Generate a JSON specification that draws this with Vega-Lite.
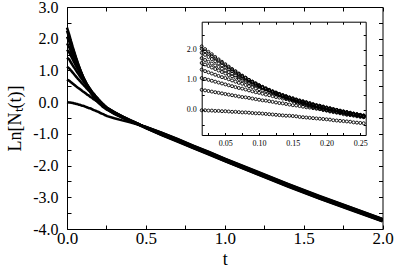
{
"$schema": "https://vega.github.io/schema/vega-lite/v6.json",
"width": 315.5, "height": 222, "autosize": "none",
"padding": {"left": 67, "top": 7, "right": 11.5, "bottom": 44},
"config": {"view": {"stroke": null}, "font": "Liberation Serif", "axis": {"grid": false, "domainColor": "#000", "tickColor": "#000", "labelColor": "#000", "titleColor": "#000", "labelFont": "Liberation Serif", "titleFont": "Liberation Serif", "titleFontWeight": "normal", "labelFontWeight": "normal", "domainWidth": 1, "tickWidth": 1, "labelFlush": false, "labelOverlap": false, "labelBound": false}},
"data": {"values": [
{"s":0,"t":0,"v":0},{"s":0,"t":0.015,"v":-0.01},{"s":0,"t":0.02,"v":-0.01},{"s":0,"t":0.025,"v":-0.02},{"s":0,"t":0.03,"v":-0.02},{"s":0,"t":0.035,"v":-0.03},{"s":0,"t":0.04,"v":-0.03},{"s":0,"t":0.045,"v":-0.04},{"s":0,"t":0.05,"v":-0.04},{"s":0,"t":0.055,"v":-0.05},{"s":0,"t":0.06,"v":-0.06},{"s":0,"t":0.065,"v":-0.06},{"s":0,"t":0.07,"v":-0.07},{"s":0,"t":0.075,"v":-0.08},{"s":0,"t":0.08,"v":-0.08},{"s":0,"t":0.085,"v":-0.09},{"s":0,"t":0.09,"v":-0.10},{"s":0,"t":0.095,"v":-0.11},{"s":0,"t":0.1,"v":-0.11},{"s":0,"t":0.105,"v":-0.12},{"s":0,"t":0.11,"v":-0.13},{"s":0,"t":0.115,"v":-0.14},{"s":0,"t":0.12,"v":-0.15},{"s":0,"t":0.125,"v":-0.16},{"s":0,"t":0.13,"v":-0.17},{"s":0,"t":0.135,"v":-0.18},{"s":0,"t":0.14,"v":-0.19},{"s":0,"t":0.145,"v":-0.19},{"s":0,"t":0.15,"v":-0.20},{"s":0,"t":0.155,"v":-0.21},{"s":0,"t":0.16,"v":-0.23},{"s":0,"t":0.165,"v":-0.24},{"s":0,"t":0.17,"v":-0.25},{"s":0,"t":0.175,"v":-0.26},{"s":0,"t":0.18,"v":-0.27},{"s":0,"t":0.185,"v":-0.28},{"s":0,"t":0.19,"v":-0.29},{"s":0,"t":0.195,"v":-0.30},{"s":0,"t":0.2,"v":-0.31},{"s":0,"t":0.205,"v":-0.32},{"s":0,"t":0.21,"v":-0.34},{"s":0,"t":0.215,"v":-0.35},{"s":0,"t":0.22,"v":-0.36},{"s":0,"t":0.225,"v":-0.37},{"s":0,"t":0.23,"v":-0.38},{"s":0,"t":0.235,"v":-0.39},{"s":0,"t":0.24,"v":-0.41},{"s":0,"t":0.245,"v":-0.42},{"s":0,"t":0.25,"v":-0.43},{"s":0,"t":0.255,"v":-0.44},
{"s":0,"t":0.3,"v":-0.51},{"s":0,"t":0.35,"v":-0.575},{"s":0,"t":0.4,"v":-0.635},{"s":0,"t":0.45,"v":-0.71},{"s":0,"t":0.5,"v":-0.82},{"s":0,"t":0.6,"v":-1.04},{"s":0,"t":0.7,"v":-1.24},{"s":0,"t":0.8,"v":-1.45},{"s":0,"t":0.9,"v":-1.65},{"s":0,"t":1,"v":-1.86},{"s":0,"t":1.2,"v":-2.26},{"s":0,"t":1.4,"v":-2.66},{"s":0,"t":1.6,"v":-3.04},{"s":0,"t":1.8,"v":-3.40},{"s":0,"t":2,"v":-3.76},
{"s":1,"t":0,"v":0.71},{"s":1,"t":0.015,"v":0.67},{"s":1,"t":0.02,"v":0.65},{"s":1,"t":0.025,"v":0.63},{"s":1,"t":0.03,"v":0.61},{"s":1,"t":0.035,"v":0.59},{"s":1,"t":0.04,"v":0.57},{"s":1,"t":0.045,"v":0.55},{"s":1,"t":0.05,"v":0.53},{"s":1,"t":0.055,"v":0.51},{"s":1,"t":0.06,"v":0.49},{"s":1,"t":0.065,"v":0.47},{"s":1,"t":0.07,"v":0.45},{"s":1,"t":0.075,"v":0.43},{"s":1,"t":0.08,"v":0.42},{"s":1,"t":0.085,"v":0.40},{"s":1,"t":0.09,"v":0.38},{"s":1,"t":0.095,"v":0.36},{"s":1,"t":0.1,"v":0.34},{"s":1,"t":0.105,"v":0.32},{"s":1,"t":0.11,"v":0.31},{"s":1,"t":0.115,"v":0.29},{"s":1,"t":0.12,"v":0.27},{"s":1,"t":0.125,"v":0.25},{"s":1,"t":0.13,"v":0.23},{"s":1,"t":0.135,"v":0.22},{"s":1,"t":0.14,"v":0.20},{"s":1,"t":0.145,"v":0.18},{"s":1,"t":0.15,"v":0.16},{"s":1,"t":0.155,"v":0.15},{"s":1,"t":0.16,"v":0.13},{"s":1,"t":0.165,"v":0.11},{"s":1,"t":0.17,"v":0.09},{"s":1,"t":0.175,"v":0.08},{"s":1,"t":0.18,"v":0.06},{"s":1,"t":0.185,"v":0.04},{"s":1,"t":0.19,"v":0.03},{"s":1,"t":0.195,"v":0.01},{"s":1,"t":0.2,"v":-0.01},{"s":1,"t":0.205,"v":-0.03},{"s":1,"t":0.21,"v":-0.04},{"s":1,"t":0.215,"v":-0.06},{"s":1,"t":0.22,"v":-0.08},{"s":1,"t":0.225,"v":-0.09},{"s":1,"t":0.23,"v":-0.11},{"s":1,"t":0.235,"v":-0.12},{"s":1,"t":0.24,"v":-0.14},{"s":1,"t":0.245,"v":-0.16},{"s":1,"t":0.25,"v":-0.17},{"s":1,"t":0.255,"v":-0.19},
{"s":1,"t":0.3,"v":-0.32},{"s":1,"t":0.35,"v":-0.45},{"s":1,"t":0.4,"v":-0.57},{"s":1,"t":0.45,"v":-0.68},{"s":1,"t":0.5,"v":-0.815},{"s":1,"t":0.6,"v":-1.03},{"s":1,"t":0.7,"v":-1.23},{"s":1,"t":0.8,"v":-1.44},{"s":1,"t":0.9,"v":-1.64},{"s":1,"t":1,"v":-1.85},{"s":1,"t":1.2,"v":-2.25},{"s":1,"t":1.4,"v":-2.65},{"s":1,"t":1.6,"v":-3.03},{"s":1,"t":1.8,"v":-3.39},{"s":1,"t":2,"v":-3.75},
{"s":2,"t":0,"v":1.12},{"s":2,"t":0.015,"v":1.06},{"s":2,"t":0.02,"v":1.03},{"s":2,"t":0.025,"v":1.00},{"s":2,"t":0.03,"v":0.97},{"s":2,"t":0.035,"v":0.94},{"s":2,"t":0.04,"v":0.91},{"s":2,"t":0.045,"v":0.88},{"s":2,"t":0.05,"v":0.85},{"s":2,"t":0.055,"v":0.82},{"s":2,"t":0.06,"v":0.79},{"s":2,"t":0.065,"v":0.76},{"s":2,"t":0.07,"v":0.73},{"s":2,"t":0.075,"v":0.71},{"s":2,"t":0.08,"v":0.68},{"s":2,"t":0.085,"v":0.65},{"s":2,"t":0.09,"v":0.62},{"s":2,"t":0.095,"v":0.59},{"s":2,"t":0.1,"v":0.57},{"s":2,"t":0.105,"v":0.54},{"s":2,"t":0.11,"v":0.51},{"s":2,"t":0.115,"v":0.49},{"s":2,"t":0.12,"v":0.46},{"s":2,"t":0.125,"v":0.43},{"s":2,"t":0.13,"v":0.41},{"s":2,"t":0.135,"v":0.38},{"s":2,"t":0.14,"v":0.36},{"s":2,"t":0.145,"v":0.33},{"s":2,"t":0.15,"v":0.31},{"s":2,"t":0.155,"v":0.28},{"s":2,"t":0.16,"v":0.26},{"s":2,"t":0.165,"v":0.23},{"s":2,"t":0.17,"v":0.21},{"s":2,"t":0.175,"v":0.18},{"s":2,"t":0.18,"v":0.16},{"s":2,"t":0.185,"v":0.13},{"s":2,"t":0.19,"v":0.11},{"s":2,"t":0.195,"v":0.09},{"s":2,"t":0.2,"v":0.06},{"s":2,"t":0.205,"v":0.04},{"s":2,"t":0.21,"v":0.02},{"s":2,"t":0.215,"v":0.00},{"s":2,"t":0.22,"v":-0.03},{"s":2,"t":0.225,"v":-0.05},{"s":2,"t":0.23,"v":-0.07},{"s":2,"t":0.235,"v":-0.09},{"s":2,"t":0.24,"v":-0.12},{"s":2,"t":0.245,"v":-0.14},{"s":2,"t":0.25,"v":-0.16},{"s":2,"t":0.255,"v":-0.18},
{"s":2,"t":0.3,"v":-0.31},{"s":2,"t":0.35,"v":-0.45},{"s":2,"t":0.4,"v":-0.57},{"s":2,"t":0.45,"v":-0.68},{"s":2,"t":0.5,"v":-0.81},{"s":2,"t":0.6,"v":-1.02},{"s":2,"t":0.7,"v":-1.22},{"s":2,"t":0.8,"v":-1.43},{"s":2,"t":0.9,"v":-1.63},{"s":2,"t":1,"v":-1.84},{"s":2,"t":1.2,"v":-2.24},{"s":2,"t":1.4,"v":-2.64},{"s":2,"t":1.6,"v":-3.02},{"s":2,"t":1.8,"v":-3.38},{"s":2,"t":2,"v":-3.74},
{"s":3,"t":0,"v":1.40},{"s":3,"t":0.015,"v":1.34},{"s":3,"t":0.02,"v":1.29},{"s":3,"t":0.025,"v":1.25},{"s":3,"t":0.03,"v":1.21},{"s":3,"t":0.035,"v":1.17},{"s":3,"t":0.04,"v":1.13},{"s":3,"t":0.045,"v":1.09},{"s":3,"t":0.05,"v":1.06},{"s":3,"t":0.055,"v":1.02},{"s":3,"t":0.06,"v":0.98},{"s":3,"t":0.065,"v":0.94},{"s":3,"t":0.07,"v":0.90},{"s":3,"t":0.075,"v":0.87},{"s":3,"t":0.08,"v":0.83},{"s":3,"t":0.085,"v":0.79},{"s":3,"t":0.09,"v":0.76},{"s":3,"t":0.095,"v":0.72},{"s":3,"t":0.1,"v":0.69},{"s":3,"t":0.105,"v":0.65},{"s":3,"t":0.11,"v":0.62},{"s":3,"t":0.115,"v":0.59},{"s":3,"t":0.12,"v":0.55},{"s":3,"t":0.125,"v":0.52},{"s":3,"t":0.13,"v":0.49},{"s":3,"t":0.135,"v":0.46},{"s":3,"t":0.14,"v":0.43},{"s":3,"t":0.145,"v":0.40},{"s":3,"t":0.15,"v":0.36},{"s":3,"t":0.155,"v":0.33},{"s":3,"t":0.16,"v":0.30},{"s":3,"t":0.165,"v":0.28},{"s":3,"t":0.17,"v":0.25},{"s":3,"t":0.175,"v":0.22},{"s":3,"t":0.18,"v":0.19},{"s":3,"t":0.185,"v":0.16},{"s":3,"t":0.19,"v":0.14},{"s":3,"t":0.195,"v":0.11},{"s":3,"t":0.2,"v":0.08},{"s":3,"t":0.205,"v":0.06},{"s":3,"t":0.21,"v":0.03},{"s":3,"t":0.215,"v":0.00},{"s":3,"t":0.22,"v":-0.02},{"s":3,"t":0.225,"v":-0.05},{"s":3,"t":0.23,"v":-0.07},{"s":3,"t":0.235,"v":-0.10},{"s":3,"t":0.24,"v":-0.12},{"s":3,"t":0.245,"v":-0.14},{"s":3,"t":0.25,"v":-0.17},{"s":3,"t":0.255,"v":-0.19},
{"s":3,"t":0.3,"v":-0.32},{"s":3,"t":0.35,"v":-0.46},{"s":3,"t":0.4,"v":-0.58},{"s":3,"t":0.45,"v":-0.69},{"s":3,"t":0.5,"v":-0.805},{"s":3,"t":0.6,"v":-1.01},{"s":3,"t":0.7,"v":-1.21},{"s":3,"t":0.8,"v":-1.42},{"s":3,"t":0.9,"v":-1.62},{"s":3,"t":1,"v":-1.83},{"s":3,"t":1.2,"v":-2.23},{"s":3,"t":1.4,"v":-2.63},{"s":3,"t":1.6,"v":-3.01},{"s":3,"t":1.8,"v":-3.37},{"s":3,"t":2,"v":-3.73},
{"s":4,"t":0,"v":1.65},{"s":4,"t":0.015,"v":1.56},{"s":4,"t":0.02,"v":1.51},{"s":4,"t":0.025,"v":1.46},{"s":4,"t":0.03,"v":1.41},{"s":4,"t":0.035,"v":1.36},{"s":4,"t":0.04,"v":1.31},{"s":4,"t":0.045,"v":1.26},{"s":4,"t":0.05,"v":1.21},{"s":4,"t":0.055,"v":1.16},{"s":4,"t":0.06,"v":1.12},{"s":4,"t":0.065,"v":1.07},{"s":4,"t":0.07,"v":1.03},{"s":4,"t":0.075,"v":0.98},{"s":4,"t":0.08,"v":0.94},{"s":4,"t":0.085,"v":0.89},{"s":4,"t":0.09,"v":0.85},{"s":4,"t":0.095,"v":0.81},{"s":4,"t":0.1,"v":0.77},{"s":4,"t":0.105,"v":0.72},{"s":4,"t":0.11,"v":0.68},{"s":4,"t":0.115,"v":0.65},{"s":4,"t":0.12,"v":0.61},{"s":4,"t":0.125,"v":0.57},{"s":4,"t":0.13,"v":0.53},{"s":4,"t":0.135,"v":0.49},{"s":4,"t":0.14,"v":0.46},{"s":4,"t":0.145,"v":0.42},{"s":4,"t":0.15,"v":0.39},{"s":4,"t":0.155,"v":0.35},{"s":4,"t":0.16,"v":0.32},{"s":4,"t":0.165,"v":0.29},{"s":4,"t":0.17,"v":0.26},{"s":4,"t":0.175,"v":0.23},{"s":4,"t":0.18,"v":0.19},{"s":4,"t":0.185,"v":0.16},{"s":4,"t":0.19,"v":0.14},{"s":4,"t":0.195,"v":0.11},{"s":4,"t":0.2,"v":0.08},{"s":4,"t":0.205,"v":0.05},{"s":4,"t":0.21,"v":0.02},{"s":4,"t":0.215,"v":0.00},{"s":4,"t":0.22,"v":-0.03},{"s":4,"t":0.225,"v":-0.06},{"s":4,"t":0.23,"v":-0.08},{"s":4,"t":0.235,"v":-0.11},{"s":4,"t":0.24,"v":-0.13},{"s":4,"t":0.245,"v":-0.15},{"s":4,"t":0.25,"v":-0.18},{"s":4,"t":0.255,"v":-0.20},
{"s":4,"t":0.3,"v":-0.33},{"s":4,"t":0.35,"v":-0.46},{"s":4,"t":0.4,"v":-0.58},{"s":4,"t":0.45,"v":-0.69},{"s":4,"t":0.5,"v":-0.80},{"s":4,"t":0.6,"v":-1.00},{"s":4,"t":0.7,"v":-1.20},{"s":4,"t":0.8,"v":-1.41},{"s":4,"t":0.9,"v":-1.61},{"s":4,"t":1,"v":-1.82},{"s":4,"t":1.2,"v":-2.22},{"s":4,"t":1.4,"v":-2.62},{"s":4,"t":1.6,"v":-3.00},{"s":4,"t":1.8,"v":-3.36},{"s":4,"t":2,"v":-3.72},
{"s":5,"t":0,"v":1.85},{"s":5,"t":0.015,"v":1.72},{"s":5,"t":0.02,"v":1.66},{"s":5,"t":0.025,"v":1.60},{"s":5,"t":0.03,"v":1.54},{"s":5,"t":0.035,"v":1.48},{"s":5,"t":0.04,"v":1.43},{"s":5,"t":0.045,"v":1.37},{"s":5,"t":0.05,"v":1.31},{"s":5,"t":0.055,"v":1.26},{"s":5,"t":0.06,"v":1.20},{"s":5,"t":0.065,"v":1.15},{"s":5,"t":0.07,"v":1.09},{"s":5,"t":0.075,"v":1.04},{"s":5,"t":0.08,"v":0.99},{"s":5,"t":0.085,"v":0.94},{"s":5,"t":0.09,"v":0.89},{"s":5,"t":0.095,"v":0.84},{"s":5,"t":0.1,"v":0.79},{"s":5,"t":0.105,"v":0.75},{"s":5,"t":0.11,"v":0.70},{"s":5,"t":0.115,"v":0.66},{"s":5,"t":0.12,"v":0.61},{"s":5,"t":0.125,"v":0.57},{"s":5,"t":0.13,"v":0.53},{"s":5,"t":0.135,"v":0.49},{"s":5,"t":0.14,"v":0.45},{"s":5,"t":0.145,"v":0.41},{"s":5,"t":0.15,"v":0.38},{"s":5,"t":0.155,"v":0.34},{"s":5,"t":0.16,"v":0.30},{"s":5,"t":0.165,"v":0.27},{"s":5,"t":0.17,"v":0.24},{"s":5,"t":0.175,"v":0.20},{"s":5,"t":0.18,"v":0.17},{"s":5,"t":0.185,"v":0.14},{"s":5,"t":0.19,"v":0.11},{"s":5,"t":0.195,"v":0.08},{"s":5,"t":0.2,"v":0.06},{"s":5,"t":0.205,"v":0.03},{"s":5,"t":0.21,"v":0.00},{"s":5,"t":0.215,"v":-0.02},{"s":5,"t":0.22,"v":-0.05},{"s":5,"t":0.225,"v":-0.07},{"s":5,"t":0.23,"v":-0.10},{"s":5,"t":0.235,"v":-0.12},{"s":5,"t":0.24,"v":-0.14},{"s":5,"t":0.245,"v":-0.17},{"s":5,"t":0.25,"v":-0.19},{"s":5,"t":0.255,"v":-0.21},
{"s":5,"t":0.3,"v":-0.34},{"s":5,"t":0.35,"v":-0.47},{"s":5,"t":0.4,"v":-0.59},{"s":5,"t":0.45,"v":-0.69},{"s":5,"t":0.5,"v":-0.795},{"s":5,"t":0.6,"v":-0.99},{"s":5,"t":0.7,"v":-1.19},{"s":5,"t":0.8,"v":-1.40},{"s":5,"t":0.9,"v":-1.60},{"s":5,"t":1,"v":-1.81},{"s":5,"t":1.2,"v":-2.21},{"s":5,"t":1.4,"v":-2.61},{"s":5,"t":1.6,"v":-2.99},{"s":5,"t":1.8,"v":-3.35},{"s":5,"t":2,"v":-3.71},
{"s":6,"t":0,"v":2.06},{"s":6,"t":0.015,"v":1.90},{"s":6,"t":0.02,"v":1.83},{"s":6,"t":0.025,"v":1.76},{"s":6,"t":0.03,"v":1.69},{"s":6,"t":0.035,"v":1.62},{"s":6,"t":0.04,"v":1.55},{"s":6,"t":0.045,"v":1.48},{"s":6,"t":0.05,"v":1.42},{"s":6,"t":0.055,"v":1.35},{"s":6,"t":0.06,"v":1.29},{"s":6,"t":0.065,"v":1.23},{"s":6,"t":0.07,"v":1.16},{"s":6,"t":0.075,"v":1.10},{"s":6,"t":0.08,"v":1.05},{"s":6,"t":0.085,"v":0.99},{"s":6,"t":0.09,"v":0.93},{"s":6,"t":0.095,"v":0.88},{"s":6,"t":0.1,"v":0.82},{"s":6,"t":0.105,"v":0.77},{"s":6,"t":0.11,"v":0.72},{"s":6,"t":0.115,"v":0.67},{"s":6,"t":0.12,"v":0.62},{"s":6,"t":0.125,"v":0.58},{"s":6,"t":0.13,"v":0.53},{"s":6,"t":0.135,"v":0.49},{"s":6,"t":0.14,"v":0.44},{"s":6,"t":0.145,"v":0.40},{"s":6,"t":0.15,"v":0.36},{"s":6,"t":0.155,"v":0.32},{"s":6,"t":0.16,"v":0.29},{"s":6,"t":0.165,"v":0.25},{"s":6,"t":0.17,"v":0.22},{"s":6,"t":0.175,"v":0.18},{"s":6,"t":0.18,"v":0.15},{"s":6,"t":0.185,"v":0.12},{"s":6,"t":0.19,"v":0.09},{"s":6,"t":0.195,"v":0.06},{"s":6,"t":0.2,"v":0.03},{"s":6,"t":0.205,"v":0.01},{"s":6,"t":0.21,"v":-0.02},{"s":6,"t":0.215,"v":-0.05},{"s":6,"t":0.22,"v":-0.07},{"s":6,"t":0.225,"v":-0.09},{"s":6,"t":0.23,"v":-0.12},{"s":6,"t":0.235,"v":-0.14},{"s":6,"t":0.24,"v":-0.16},{"s":6,"t":0.245,"v":-0.18},{"s":6,"t":0.25,"v":-0.20},{"s":6,"t":0.255,"v":-0.22},
{"s":6,"t":0.3,"v":-0.35},{"s":6,"t":0.35,"v":-0.47},{"s":6,"t":0.4,"v":-0.59},{"s":6,"t":0.45,"v":-0.70},{"s":6,"t":0.5,"v":-0.79},{"s":6,"t":0.6,"v":-0.98},{"s":6,"t":0.7,"v":-1.18},{"s":6,"t":0.8,"v":-1.39},{"s":6,"t":0.9,"v":-1.59},{"s":6,"t":1,"v":-1.80},{"s":6,"t":1.2,"v":-2.20},{"s":6,"t":1.4,"v":-2.60},{"s":6,"t":1.6,"v":-2.98},{"s":6,"t":1.8,"v":-3.34},{"s":6,"t":2,"v":-3.70},
{"s":7,"t":0,"v":2.25},{"s":7,"t":0.015,"v":2.03},{"s":7,"t":0.02,"v":1.95},{"s":7,"t":0.025,"v":1.87},{"s":7,"t":0.03,"v":1.79},{"s":7,"t":0.035,"v":1.71},{"s":7,"t":0.04,"v":1.64},{"s":7,"t":0.045,"v":1.56},{"s":7,"t":0.05,"v":1.48},{"s":7,"t":0.055,"v":1.41},{"s":7,"t":0.06,"v":1.34},{"s":7,"t":0.065,"v":1.27},{"s":7,"t":0.07,"v":1.20},{"s":7,"t":0.075,"v":1.13},{"s":7,"t":0.08,"v":1.07},{"s":7,"t":0.085,"v":1.00},{"s":7,"t":0.09,"v":0.94},{"s":7,"t":0.095,"v":0.88},{"s":7,"t":0.1,"v":0.82},{"s":7,"t":0.105,"v":0.76},{"s":7,"t":0.11,"v":0.71},{"s":7,"t":0.115,"v":0.65},{"s":7,"t":0.12,"v":0.60},{"s":7,"t":0.125,"v":0.55},{"s":7,"t":0.13,"v":0.51},{"s":7,"t":0.135,"v":0.46},{"s":7,"t":0.14,"v":0.41},{"s":7,"t":0.145,"v":0.37},{"s":7,"t":0.15,"v":0.33},{"s":7,"t":0.155,"v":0.29},{"s":7,"t":0.16,"v":0.25},{"s":7,"t":0.165,"v":0.22},{"s":7,"t":0.17,"v":0.18},{"s":7,"t":0.175,"v":0.15},{"s":7,"t":0.18,"v":0.12},{"s":7,"t":0.185,"v":0.09},{"s":7,"t":0.19,"v":0.06},{"s":7,"t":0.195,"v":0.03},{"s":7,"t":0.2,"v":0.00},{"s":7,"t":0.205,"v":-0.02},{"s":7,"t":0.21,"v":-0.05},{"s":7,"t":0.215,"v":-0.07},{"s":7,"t":0.22,"v":-0.09},{"s":7,"t":0.225,"v":-0.11},{"s":7,"t":0.23,"v":-0.14},{"s":7,"t":0.235,"v":-0.16},{"s":7,"t":0.24,"v":-0.17},{"s":7,"t":0.245,"v":-0.19},{"s":7,"t":0.25,"v":-0.21},{"s":7,"t":0.255,"v":-0.23},
{"s":7,"t":0.3,"v":-0.36},{"s":7,"t":0.35,"v":-0.48},{"s":7,"t":0.4,"v":-0.60},{"s":7,"t":0.45,"v":-0.70},{"s":7,"t":0.5,"v":-0.785},{"s":7,"t":0.6,"v":-0.97},{"s":7,"t":0.7,"v":-1.17},{"s":7,"t":0.8,"v":-1.38},{"s":7,"t":0.9,"v":-1.58},{"s":7,"t":1,"v":-1.79},{"s":7,"t":1.2,"v":-2.19},{"s":7,"t":1.4,"v":-2.59},{"s":7,"t":1.6,"v":-2.97},{"s":7,"t":1.8,"v":-3.33},{"s":7,"t":2,"v":-3.69},
{"s":8,"t":0,"v":2.35},{"s":8,"t":0.015,"v":2.11},{"s":8,"t":0.02,"v":2.02},{"s":8,"t":0.025,"v":1.93},{"s":8,"t":0.03,"v":1.85},{"s":8,"t":0.035,"v":1.76},{"s":8,"t":0.04,"v":1.68},{"s":8,"t":0.045,"v":1.60},{"s":8,"t":0.05,"v":1.52},{"s":8,"t":0.055,"v":1.44},{"s":8,"t":0.06,"v":1.36},{"s":8,"t":0.065,"v":1.29},{"s":8,"t":0.07,"v":1.21},{"s":8,"t":0.075,"v":1.14},{"s":8,"t":0.08,"v":1.07},{"s":8,"t":0.085,"v":1.00},{"s":8,"t":0.09,"v":0.94},{"s":8,"t":0.095,"v":0.87},{"s":8,"t":0.1,"v":0.81},{"s":8,"t":0.105,"v":0.75},{"s":8,"t":0.11,"v":0.69},{"s":8,"t":0.115,"v":0.64},{"s":8,"t":0.12,"v":0.58},{"s":8,"t":0.125,"v":0.53},{"s":8,"t":0.13,"v":0.48},{"s":8,"t":0.135,"v":0.43},{"s":8,"t":0.14,"v":0.39},{"s":8,"t":0.145,"v":0.35},{"s":8,"t":0.15,"v":0.30},{"s":8,"t":0.155,"v":0.26},{"s":8,"t":0.16,"v":0.23},{"s":8,"t":0.165,"v":0.19},{"s":8,"t":0.17,"v":0.15},{"s":8,"t":0.175,"v":0.12},{"s":8,"t":0.18,"v":0.09},{"s":8,"t":0.185,"v":0.06},{"s":8,"t":0.19,"v":0.03},{"s":8,"t":0.195,"v":0.00},{"s":8,"t":0.2,"v":-0.02},{"s":8,"t":0.205,"v":-0.05},{"s":8,"t":0.21,"v":-0.07},{"s":8,"t":0.215,"v":-0.09},{"s":8,"t":0.22,"v":-0.11},{"s":8,"t":0.225,"v":-0.14},{"s":8,"t":0.23,"v":-0.16},{"s":8,"t":0.235,"v":-0.17},{"s":8,"t":0.24,"v":-0.19},{"s":8,"t":0.245,"v":-0.21},{"s":8,"t":0.25,"v":-0.23},{"s":8,"t":0.255,"v":-0.24},
{"s":8,"t":0.3,"v":-0.37},{"s":8,"t":0.35,"v":-0.49},{"s":8,"t":0.4,"v":-0.60},{"s":8,"t":0.45,"v":-0.70},{"s":8,"t":0.5,"v":-0.78},{"s":8,"t":0.6,"v":-0.96},{"s":8,"t":0.7,"v":-1.16},{"s":8,"t":0.8,"v":-1.37},{"s":8,"t":0.9,"v":-1.57},{"s":8,"t":1,"v":-1.78},{"s":8,"t":1.2,"v":-2.18},{"s":8,"t":1.4,"v":-2.58},{"s":8,"t":1.6,"v":-2.96},{"s":8,"t":1.8,"v":-3.32},{"s":8,"t":2,"v":-3.68}
]},
"layer": [
{"mark": {"type": "line", "color": "#000", "strokeWidth": 2.5},
 "encoding": {
  "x": {"field": "t", "type": "quantitative", "scale": {"domain": [0, 2], "nice": false, "zero": false},
        "axis": {"orient": "bottom", "values": [0,0.25,0.5,0.75,1,1.25,1.5,1.75,2], "format": ".1f", "labelExpr": "round(datum.value*4)%2===0 ? replace(datum.label,'\u2212','-') : ''", "tickSize": -4, "labelPadding": 5, "labelFont": "Liberation Serif", "labelColor": "#000", "labelFontSize": 17, "title": "t", "titleFont": "Liberation Serif", "titleFontSize": 18, "titlePadding": 4}},
  "y": {"field": "v", "type": "quantitative", "scale": {"domain": [-4, 3], "nice": false, "zero": false},
        "axis": {"orient": "left", "values": [-4,-3.5,-3,-2.5,-2,-1.5,-1,-0.5,0,0.5,1,1.5,2,2.5,3], "format": ".1f", "labelExpr": "round(datum.value*2)%2===0 ? replace(datum.label,'\u2212','-') : ''", "tickSize": -4, "labelPadding": 13, "labelFont": "Liberation Serif", "labelColor": "#000", "labelFontSize": 16, "title": "Ln[N\u209c(t)]", "titleFont": "Liberation Serif", "titleFontSize": 18, "titlePadding": 8}},
  "detail": {"field": "s", "type": "nominal"}}},
{"mark": {"type": "point", "opacity": 0},
 "encoding": {
  "x": {"field": "t", "type": "quantitative", "scale": {"domain": [0, 2], "nice": false, "zero": false},
        "axis": {"orient": "top", "values": [0,0.25,0.5,0.75,1,1.25,1.5,1.75,2], "labels": false, "tickSize": -4, "title": null}},
  "y": {"field": "v", "type": "quantitative", "scale": {"domain": [-4, 3], "nice": false, "zero": false},
        "axis": {"orient": "right", "values": [-4,-3.5,-3,-2.5,-2,-1.5,-1,-0.5,0,0.5,1,1.5,2,2.5,3], "labels": false, "tickSize": -4, "title": null}}}},
{"transform": [{"filter": {"field": "t", "range": [0.014, 0.256]}}],
 "mark": {"type": "point", "shape": "circle", "filled": false, "size": 9, "strokeWidth": 0.9, "color": "#000", "opacity": 1},
 "encoding": {
  "x": {"field": "t", "type": "quantitative", "scale": {"domain": [0.015, 0.258], "range": [134.7, 298.7], "nice": false, "zero": false},
        "axis": {"orient": "bottom", "offset": -94, "values": [0.025,0.05,0.075,0.1,0.125,0.15,0.175,0.2,0.225,0.25], "format": ".2f", "labelExpr": "round(datum.value*40)%2===0 ? datum.label : ''", "tickSize": -2.5, "labelPadding": 7, "labelFont": "Liberation Serif", "labelColor": "#000", "labelFontSize": 8, "title": null}},
  "y": {"field": "v", "type": "quantitative", "scale": {"domain": [-0.83, 2.93], "range": [128, 14.7], "nice": false, "zero": false},
        "axis": {"orient": "left", "offset": -134.7, "values": [-0.5,0,0.5,1,1.5,2,2.5], "format": ".1f", "labelExpr": "round(datum.value*2)%2===0 ? datum.label : ''", "tickSize": -2.5, "labelPadding": 8, "labelFont": "Liberation Serif", "labelColor": "#000", "labelFontSize": 8, "title": null}}}},
{"transform": [{"filter": {"field": "t", "range": [0.014, 0.256]}}],
 "mark": {"type": "point", "opacity": 0},
 "encoding": {
  "x": {"field": "t", "type": "quantitative", "scale": {"domain": [0.015, 0.258], "range": [134.7, 298.7], "nice": false, "zero": false},
        "axis": {"orient": "top", "offset": -14.7, "values": [0.025,0.05,0.075,0.1,0.125,0.15,0.175,0.2,0.225,0.25], "labels": false, "tickSize": -2.5, "title": null}},
  "y": {"field": "v", "type": "quantitative", "scale": {"domain": [-0.83, 2.93], "range": [128, 14.7], "nice": false, "zero": false},
        "axis": {"orient": "right", "offset": -16.8, "values": [-0.5,0,0.5,1,1.5,2,2.5], "labels": false, "tickSize": -2.5, "title": null}}}}
],
"resolve": {"scale": {"x": "independent", "y": "independent"}}
}
